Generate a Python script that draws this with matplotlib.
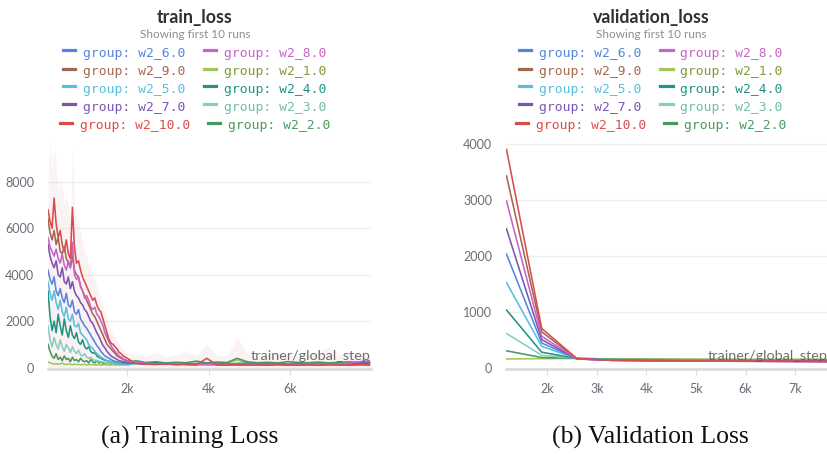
import matplotlib
matplotlib.use("Agg")
import matplotlib.pyplot as plt
from matplotlib.lines import Line2D
import numpy as np

# ---- data ----
groups = ["w2_6.0", "w2_8.0", "w2_9.0", "w2_1.0", "w2_5.0",
          "w2_4.0", "w2_7.0", "w2_3.0", "w2_10.0", "w2_2.0"]

steps_early = np.arange(50, 2001, 50)
steps_late = np.arange(2200, 8000, 250)
train_steps = np.concatenate([steps_early, steps_late])

train_early = {
    "w2_10.0": [6800, 6300, 6000, 7300, 6200, 5600, 5900, 5300, 5000, 5500, 4900, 4700, 6900, 5200, 4500, 4600, 4200, 3900, 3700, 3500,
                3300, 3100, 2900, 3000, 2700, 2500, 2400, 2100, 1800, 1500, 1200, 1050, 1000, 900, 800, 650, 600, 500, 450, 400],
    "w2_9.0": [6400, 5800, 5500, 5900, 5300, 5600, 5000, 4900, 5200, 4700, 4500, 4300, 4800, 4200, 4000, 3900, 3500, 3300, 3100, 2900,
               2700, 2500, 2300, 2200, 2000, 1800, 1600, 1400, 1200, 1000, 900, 800, 700, 600, 500, 450, 400, 350, 320, 300],
    "w2_8.0": [5600, 5200, 5000, 4800, 5100, 4700, 4500, 4900, 4400, 4200, 4600, 4300, 5400, 4000, 3800, 3900, 3500, 3300, 3000, 3100,
               2900, 2600, 2500, 2600, 2300, 2200, 2000, 1800, 1500, 1300, 1100, 950, 800, 700, 600, 500, 450, 380, 300, 280],
    "w2_7.0": [5300, 4800, 4500, 4300, 4600, 4000, 3900, 4300, 3700, 3600, 3900, 3400, 3700, 3300, 3100, 3000, 2800, 2700, 2500, 2400,
               2200, 2000, 1900, 1700, 1500, 1350, 1150, 950, 850, 700, 600, 500, 450, 400, 350, 300, 280, 250, 230, 220],
    "w2_6.0": [4200, 3800, 3600, 3900, 3300, 3100, 3400, 3000, 2800, 3200, 2700, 2600, 2900, 2400, 2300, 2500, 2100, 1950, 1800, 1700,
               1550, 1400, 1250, 1100, 950, 850, 700, 600, 500, 450, 400, 350, 300, 270, 250, 230, 210, 200, 190, 180],
    "w2_5.0": [3700, 3200, 2900, 3300, 2800, 2500, 2900, 2400, 2200, 2600, 2100, 2000, 2300, 1800, 1750, 1900, 1500, 1400, 1300, 1200,
               1000, 900, 820, 700, 600, 520, 450, 400, 350, 300, 280, 250, 230, 210, 200, 190, 180, 170, 160, 160],
    "w2_4.0": [3300, 2200, 1600, 2000, 1500, 2300, 1800, 1400, 2100, 1600, 1300, 1800, 1400, 1250, 1500, 1100, 1000, 1200, 900, 800,
               900, 700, 620, 650, 500, 450, 400, 350, 320, 300, 280, 250, 230, 220, 200, 190, 180, 170, 170, 160],
    "w2_3.0": [1800, 1200, 900, 1300, 1000, 800, 1200, 900, 700, 1000, 850, 650, 900, 700, 600, 750, 550, 500, 600, 450,
               400, 450, 350, 320, 300, 280, 260, 240, 220, 210, 200, 190, 180, 175, 170, 165, 160, 160, 155, 150],
    "w2_2.0": [1000, 700, 500, 400, 600, 350, 450, 300, 500, 350, 400, 250, 450, 300, 350, 250, 400, 300, 250, 300,
               200, 350, 250, 200, 300, 200, 250, 180, 200, 220, 180, 170, 200, 160, 180, 150, 170, 160, 350, 200],
    "w2_1.0": [250, 200, 180, 150, 170, 140, 160, 200, 150, 130, 160, 140, 120, 150, 130, 140, 120, 130, 140, 110,
               130, 120, 140, 110, 120, 130, 110, 120, 130, 110, 120, 110, 130, 110, 120, 110, 120, 110, 115, 110],
}
train_late = {
    "w2_10.0": [180, 150, 130, 160, 120, 140, 110, 400, 120, 100, 130, 110, 120, 100, 140, 110, 100, 120, 100, 130, 110, 100, 120, 110],
    "w2_9.0": [200, 170, 150, 140, 160, 130, 150, 140, 120, 150, 130, 140, 120, 130, 150, 120, 140, 130, 120, 140, 130, 120, 130, 120],
    "w2_8.0": [220, 180, 160, 150, 170, 140, 130, 150, 140, 120, 150, 130, 140, 120, 130, 140, 120, 150, 130, 160, 140, 200, 250, 300],
    "w2_7.0": [210, 170, 150, 160, 140, 150, 130, 140, 150, 130, 140, 120, 150, 130, 140, 120, 130, 140, 120, 130, 140, 150, 170, 200],
    "w2_6.0": [190, 160, 170, 150, 140, 160, 150, 130, 140, 150, 120, 140, 130, 150, 120, 140, 130, 120, 140, 130, 150, 140, 160, 180],
    "w2_5.0": [170, 160, 150, 170, 150, 140, 160, 150, 140, 130, 150, 140, 130, 140, 150, 130, 140, 150, 130, 140, 130, 150, 140, 160],
    "w2_4.0": [200, 180, 220, 170, 190, 160, 180, 200, 170, 160, 180, 190, 160, 170, 180, 160, 190, 170, 160, 180, 170, 190, 200, 210],
    "w2_3.0": [170, 160, 180, 150, 170, 160, 150, 170, 160, 150, 170, 160, 150, 160, 170, 150, 160, 170, 150, 160, 170, 160, 170, 180],
    "w2_2.0": [300, 220, 250, 200, 230, 210, 280, 200, 240, 220, 400, 250, 210, 230, 200, 260, 220, 210, 240, 200, 230, 250, 220, 240],
    "w2_1.0": [180, 170, 190, 160, 180, 170, 160, 180, 170, 190, 330, 200, 180, 170, 190, 180, 170, 160, 180, 190, 170, 180, 200, 250],
}
# upper envelope of the min/max band over all runs
train_env = [8000, 9800, 8500, 9500, 8800, 7500, 8200, 7800, 7000, 7400, 7000, 6500, 9600, 7200, 6200, 6400, 5800, 5400, 5000, 4800,
             4500, 4200, 3900, 3800, 3500, 3200, 3000, 2700, 2400, 2100, 1800, 1600, 1400, 1300, 1200, 1000, 900, 800, 700, 650,
             600, 500, 650, 450, 550, 700, 500, 1000, 550, 500, 1300, 600, 500, 550, 650, 500, 600, 550, 650, 900, 550, 650, 600, 500]

val_steps = [1180, 1890, 2600, 3310, 4020, 4730, 5440, 6150, 6860, 7570, 7660]
val_loss = {
    "w2_10.0": [3900, 700, 160, 130, 125, 120, 118, 115, 112, 110, 110],
    "w2_9.0": [3430, 640, 158, 132, 127, 122, 120, 118, 116, 114, 114],
    "w2_8.0": [2980, 560, 155, 128, 122, 118, 115, 110, 105, 100, 100],
    "w2_7.0": [2480, 500, 155, 130, 125, 122, 120, 118, 116, 115, 115],
    "w2_6.0": [2030, 440, 158, 133, 128, 124, 122, 120, 118, 117, 117],
    "w2_5.0": [1520, 380, 160, 135, 130, 127, 125, 123, 121, 120, 120],
    "w2_4.0": [1030, 275, 162, 140, 135, 132, 130, 128, 127, 126, 126],
    "w2_3.0": [610, 220, 165, 145, 140, 137, 135, 134, 133, 132, 132],
    "w2_2.0": [300, 180, 168, 150, 145, 142, 140, 139, 138, 137, 137],
    "w2_1.0": [155, 160, 162, 158, 155, 153, 152, 150, 150, 150, 150],
}

train_xticks = [2000, 4000, 6000]
train_xlabels = ["2k", "4k", "6k"]
train_yticks = [0, 2000, 4000, 6000, 8000]
val_xticks = [2000, 3000, 4000, 5000, 6000, 7000]
val_xlabels = ["2k", "3k", "4k", "5k", "6k", "7k"]
val_yticks = [0, 1000, 2000, 3000, 4000]

# ---- styles ----
colors = {
    "w2_6.0": "#5387dd", "w2_8.0": "#c565c7", "w2_9.0": "#a46750", "w2_1.0": "#a0c75c",
    "w2_5.0": "#58bfe0", "w2_4.0": "#229487", "w2_7.0": "#7d54b2", "w2_3.0": "#87cebf",
    "w2_10.0": "#da4c4c", "w2_2.0": "#479a5f",
}
text_colors = dict(colors)
text_colors["w2_1.0"] = "#7f9a3c"
text_colors["w2_3.0"] = "#72bcaa"
draw_order = ["w2_1.0", "w2_2.0", "w2_3.0", "w2_4.0", "w2_5.0",
              "w2_6.0", "w2_7.0", "w2_9.0", "w2_8.0", "w2_10.0"]

W, H = 828, 455
fig = plt.figure(figsize=(W / 100, H / 100), dpi=100)
ax1 = fig.add_axes([48 / W, 1 - 369 / H, 323 / W, 229 / H])
ax2 = fig.add_axes([506 / W, 1 - 369 / H, 322 / W, 229 / H])

tick_font = dict(family="Lato", size=9, color="#6b6b76")


def style_axes(ax, xt, xl, yt):
    for s in ["top", "right", "left"]:
        ax.spines[s].set_visible(False)
    ax.spines["bottom"].set_color("#dcdcdc")
    ax.spines["bottom"].set_linewidth(2)
    ax.set_xticks(xt)
    ax.set_xticklabels(xl, **tick_font)
    ax.set_yticks(yt)
    ax.set_yticklabels([str(v) for v in yt], **tick_font)
    ax.tick_params(axis="x", length=4, color="#dcdcdc", pad=6)
    ax.tick_params(axis="y", length=0, pad=10)
    ax.grid(axis="y", color="#eeeeee", lw=1)
    ax.set_axisbelow(True)
    ax.text(1.0, 0.03, "trainer/global_step", transform=ax.transAxes, ha="right", va="bottom",
            family="Lato", fontsize=10.4, color="#555555", alpha=0.85, zorder=10)


# training loss
ax1.fill_between(train_steps, 0, train_env, color="#e6b4b4", alpha=0.15, lw=0)
for g in draw_order:
    y = np.concatenate([train_early[g], train_late[g]])
    ax1.plot(train_steps, y, color=colors[g], lw=1.15)
ax1.set_xlim(50, 7990)
ax1.set_ylim(-60, 9800)
style_axes(ax1, train_xticks, train_xlabels, train_yticks)

# validation loss
for g in draw_order:
    ax2.plot(val_steps, val_loss[g], color=colors[g], lw=1.15)
ax2.set_xlim(1170, 7660)
ax2.set_ylim(-25, 4070)
style_axes(ax2, val_xticks, val_xlabels, val_yticks)

# titles and legends (W&B style, laid out in pixels)
cw = 7.85
rows = [("w2_6.0", "w2_8.0"), ("w2_9.0", "w2_1.0"), ("w2_5.0", "w2_4.0"),
        ("w2_7.0", "w2_3.0"), ("w2_10.0", "w2_2.0")]
row_y = [53, 72, 89, 107, 126]
for cx, title in [(195, "train_loss"), (651, "validation_loss")]:
    fig.text(cx / W, 1 - 17 / H, title, ha="center", va="center", family="Lato",
             fontweight="bold", fontsize=12.8, color="#2f2f35")
    fig.text(cx / W, 1 - 35 / H, "Showing first 10 runs", ha="center", va="center",
             family="Lato", fontsize=8.5, color="#8e8e93")
    for (a, b), py in zip(rows, row_y):
        labels = ["group: " + a, "group: " + b]
        widths = [20 + len(s) * cw for s in labels]
        x = cx - (sum(widths) + 19) / 2
        for g, s, w in zip((a, b), labels, widths):
            fig.add_artist(Line2D([x / W, (x + 12) / W], [1 - (py - 3) / H] * 2,
                                  color=colors[g], lw=2.3, transform=fig.transFigure))
            fig.text((x + 20) / W, 1 - py / H, s, ha="left", va="center",
                     family="DejaVu Sans Mono", fontsize=9.4, color=text_colors[g])
            x += w + 19

fig.text(190 / W, 1 - 437 / H, "(a) Training Loss", ha="center", va="center",
         family="Liberation Serif", fontsize=18.5, color="#111111")
fig.text(650 / W, 1 - 437 / H, "(b) Validation Loss", ha="center", va="center",
         family="Liberation Serif", fontsize=18.5, color="#111111")

fig.savefig("out.png", dpi=100)
